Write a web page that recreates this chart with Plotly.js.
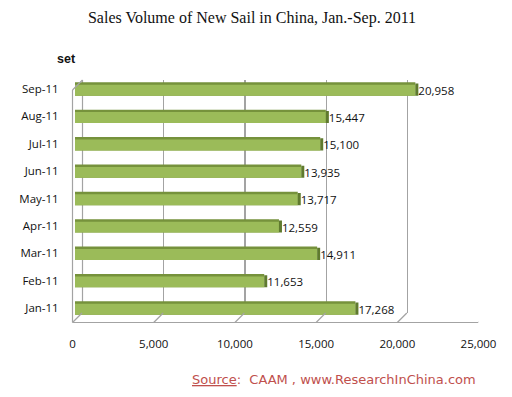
<!DOCTYPE html>
<html>
<head>
<meta charset="utf-8">
<script src="https://cdn.plot.ly/plotly-3.0.1.min.js"></script>
<style>html,body{margin:0;padding:0;background:#fff;}#chart{width:512px;height:397px;}</style>
</head>
<body>
<div id="chart"></div>
<script>
// ---- data ----
const months = ["Jan-11","Feb-11","Mar-11","Apr-11","May-11","Jun-11","Jul-11","Aug-11","Sep-11"];
const sales = [17268, 11653, 14911, 12559, 13717, 13935, 15100, 15447, 20958];
const tickVals = [0, 5000, 10000, 15000, 20000, 25000];
const tickText = ["0", "5,000", "10,000", "15,000", "20,000", "25,000"];
const xMax = 25000;

// ---- helpers (pixel -> paper) ----
const W = 512, H = 397;
const px = v => v / W;
const py = v => 1 - v / H;

const faceColor = "#9BBB59";
const topColor = "#76923C";
const endColor = "#5F7A2E";
const gridColor = "#A3A3A3";
const sansFont = "Open Sans";

const traces = [
  {type: "scatter", x: [0], y: [0], xaxis: "x", yaxis: "y", mode: "markers",
   marker: {opacity: 0}, hoverinfo: "skip", showlegend: false},
  {type: "bar", orientation: "h", x: sales, y: months, xaxis: "x2", yaxis: "y2",
   width: 0.49, marker: {color: topColor, line: {width: 0}},
   hoverinfo: "skip", showlegend: false},
  {type: "bar", orientation: "h", x: sales, y: months, xaxis: "x2", yaxis: "y2",
   width: 0.40, offset: -0.245, marker: {color: faceColor, line: {width: 0}},
   texttemplate: "%{x:,d}", textposition: "outside", cliponaxis: false, constraintext: "none",
   textfont: {family: sansFont, size: 11.5, color: "#111"},
   hoverinfo: "skip", showlegend: false},
  {type: "scatter", x: [0], y: [0], xaxis: "x3", yaxis: "y3", mode: "markers",
   marker: {opacity: 0}, hoverinfo: "skip", showlegend: false}
];

const shapes = [];
const lineStyle = {color: gridColor, width: 1.2};
// left wall
shapes.push({type: "line", xref: "paper", yref: "paper", x0: px(72.5), x1: px(72.5), y0: py(90), y1: py(322.5), line: lineStyle});
shapes.push({type: "line", xref: "paper", yref: "paper", x0: px(72.5), x1: px(82.5), y0: py(90), y1: py(80), line: lineStyle});
shapes.push({type: "line", xref: "paper", yref: "paper", x0: px(82.5), x1: px(82.5), y0: py(80), y1: py(313), line: lineStyle, layer: "below"});
// floor front edge
shapes.push({type: "line", xref: "paper", yref: "paper", x0: px(72.5), x1: px(478), y0: py(322.5), y1: py(322.5), line: lineStyle});
// floor diagonals at each tick
tickVals.forEach(t => {
  shapes.push({type: "line", xref: "x3", xsizemode: "pixel", xanchor: t, x0: 0, x1: 9.5,
    yref: "paper", y0: py(322.5), y1: py(313), line: lineStyle});
});
// bar end faces
sales.forEach((v, i) => {
  shapes.push({type: "rect", xref: "x2", xsizemode: "pixel", xanchor: v, x0: 0, x1: 3,
    yref: "y2", y0: i - 0.245, y1: i + 0.2, fillcolor: endColor, line: {width: 0}, layer: "above"});
});

const layout = {
  width: W, height: H,
  margin: {l: 0, r: 0, t: 0, b: 0},
  paper_bgcolor: "#fff",
  plot_bgcolor: "rgba(0,0,0,0)",
  barmode: "overlay",
  showlegend: false,
  title: {text: "Sales Volume of New Sail in China, Jan.-Sep. 2011",
          font: {family: "Liberation Serif", size: 16, color: "#111"},
          x: px(252), xanchor: "center", y: py(17), yanchor: "middle"},
  xaxis: {domain: [px(82.5), px(488.5)], range: [0, xMax], tickvals: tickVals, showgrid: true,
          gridcolor: gridColor, gridwidth: 1.2, showticklabels: false, zeroline: false,
          showline: false, ticks: "", anchor: "y", fixedrange: true},
  yaxis: {domain: [py(313), py(80)], range: [0, 1], visible: false, fixedrange: true},
  xaxis2: {domain: [px(75), px(481)], range: [0, xMax], anchor: "y2", showgrid: false,
           showticklabels: false, zeroline: false, showline: false, ticks: "", fixedrange: true},
  yaxis2: {domain: [py(321.7), py(75.3)], range: [-0.5, 8.5], type: "category",
           categoryorder: "array", categoryarray: months, anchor: "x2",
           showgrid: false, zeroline: false, showline: false,
           ticks: "outside", ticklen: 13, tickcolor: "rgba(0,0,0,0)",
           tickfont: {family: sansFont, size: 11.5, color: "#111"}, fixedrange: true},
  xaxis3: {domain: [px(72.5), px(478.5)], range: [0, xMax], anchor: "y3",
           tickvals: tickVals, ticktext: tickText, showgrid: false, zeroline: false, showline: false,
           ticks: "outside", ticklen: 10, tickcolor: "rgba(0,0,0,0)",
           tickfont: {family: sansFont, size: 11.5, color: "#111"}, fixedrange: true},
  yaxis3: {domain: [py(323), py(322)], range: [0, 1], visible: false, fixedrange: true},
  shapes: shapes,
  annotations: [
    {text: "<b>set</b>", xref: "paper", yref: "paper", x: px(66), y: py(59),
     xanchor: "center", yanchor: "middle", showarrow: false,
     font: {family: "Liberation Sans", size: 12.5, color: "#111"}},
    {text: "<u>Source</u>:  CAAM , www.ResearchInChina.com", xref: "paper", yref: "paper",
     x: px(478), y: py(379), xanchor: "right", yanchor: "middle", showarrow: false,
     font: {family: "DejaVu Sans", size: 13, color: "#C0504D"}}
  ]
};

Plotly.newPlot("chart", traces, layout, {staticPlot: true, displayModeBar: false});
</script>
</body>
</html>
